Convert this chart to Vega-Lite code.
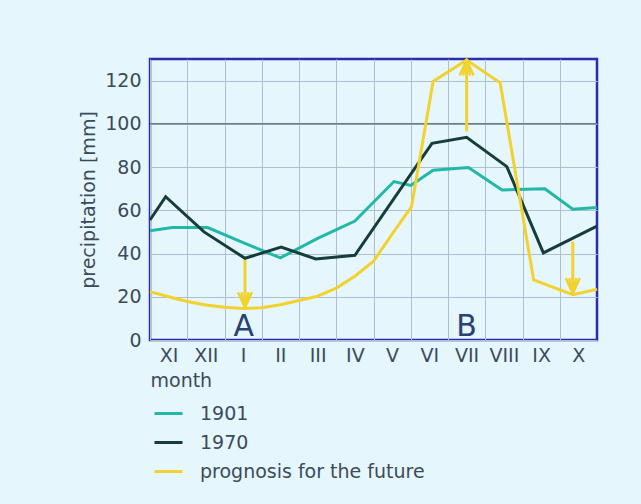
{
  "$schema": "https://vega.github.io/schema/vega-lite/v6.json",
  "width": 447,
  "height": 281,
  "autosize": "none",
  "padding": {"left": 150, "top": 59, "right": 44, "bottom": 164},
  "background": "#e6f6fd",
  "config": {
    "font": "DejaVu Sans",
    "view": {"stroke": "#2b2bab", "strokeWidth": 2.5, "fill": "#e6f6fd"},
    "axis": {"labelFont": "DejaVu Sans", "titleFont": "DejaVu Sans", "labelColor": "#3b4b5b", "titleColor": "#3b4b5b", "labelFontSize": 19, "titleFontSize": 19, "titleFontWeight": "normal", "gridColor": "#aebfcf", "gridWidth": 1, "gridOpacity": 1, "domain": false, "ticks": false},
    "legend": {"labelFont": "DejaVu Sans", "labelFontSize": 19, "labelColor": "#3b4b5b", "labelLimit": 400}
  },
  "datasets": {
    "lines": [
      {"series": "1901", "u": 0, "v": 50.5},
      {"series": "1901", "u": 0.6, "v": 52},
      {"series": "1901", "u": 1.55, "v": 52},
      {"series": "1901", "u": 2.5, "v": 45},
      {"series": "1901", "u": 3.5, "v": 38},
      {"series": "1901", "u": 4.5, "v": 47},
      {"series": "1901", "u": 5.5, "v": 55},
      {"series": "1901", "u": 6.55, "v": 73.3},
      {"series": "1901", "u": 7.0, "v": 71.5},
      {"series": "1901", "u": 7.6, "v": 78.5},
      {"series": "1901", "u": 8.55, "v": 79.8},
      {"series": "1901", "u": 9.45, "v": 69.4},
      {"series": "1901", "u": 10.6, "v": 70},
      {"series": "1901", "u": 11.35, "v": 60.5},
      {"series": "1901", "u": 12, "v": 61.3},
      {"series": "1970", "u": 0, "v": 55.5},
      {"series": "1970", "u": 0.42, "v": 66.3},
      {"series": "1970", "u": 1.45, "v": 50},
      {"series": "1970", "u": 2.55, "v": 37.8},
      {"series": "1970", "u": 3.52, "v": 43},
      {"series": "1970", "u": 4.45, "v": 37.5},
      {"series": "1970", "u": 5.5, "v": 39.2},
      {"series": "1970", "u": 7.57, "v": 91},
      {"series": "1970", "u": 8.5, "v": 93.8},
      {"series": "1970", "u": 9.58, "v": 80.2},
      {"series": "1970", "u": 10.56, "v": 40.3},
      {"series": "1970", "u": 12, "v": 52.7},
      {"series": "prognosis for the future", "u": 0, "v": 22.4},
      {"series": "prognosis for the future", "u": 0.5, "v": 20},
      {"series": "prognosis for the future", "u": 1.0, "v": 17.8},
      {"series": "prognosis for the future", "u": 1.5, "v": 16.2},
      {"series": "prognosis for the future", "u": 2.0, "v": 15.2},
      {"series": "prognosis for the future", "u": 2.5, "v": 14.6},
      {"series": "prognosis for the future", "u": 3.0, "v": 14.9},
      {"series": "prognosis for the future", "u": 3.5, "v": 16.3},
      {"series": "prognosis for the future", "u": 4.0, "v": 18.3},
      {"series": "prognosis for the future", "u": 4.5, "v": 20.3},
      {"series": "prognosis for the future", "u": 5.0, "v": 24},
      {"series": "prognosis for the future", "u": 5.5, "v": 29.5},
      {"series": "prognosis for the future", "u": 6.0, "v": 36.5},
      {"series": "prognosis for the future", "u": 6.5, "v": 49},
      {"series": "prognosis for the future", "u": 7.02, "v": 61.7},
      {"series": "prognosis for the future", "u": 7.6, "v": 119.6},
      {"series": "prognosis for the future", "u": 8.5, "v": 129.5},
      {"series": "prognosis for the future", "u": 9.4, "v": 119},
      {"series": "prognosis for the future", "u": 10.3, "v": 27.8},
      {"series": "prognosis for the future", "u": 11.35, "v": 21},
      {"series": "prognosis for the future", "u": 12, "v": 23.5}
    ],
    "arrows": [
      {"u": 2.55, "from": 37, "to": 15, "dir": "down"},
      {"u": 8.5, "from": 96.5, "to": 129.5, "dir": "up"},
      {"u": 11.35, "from": 45.5, "to": 21.5, "dir": "down"}
    ],
    "letters": [
      {"u": 2.52, "v": 1.9, "t": "A"},
      {"u": 8.5, "v": 1.9, "t": "B"}
    ]
  },
  "layer": [
    {
      "data": {"values": [{"g": 100}]},
      "mark": {"type": "rule", "color": "#6c7c8c", "strokeWidth": 1.5},
      "encoding": {
        "y": {"field": "g", "type": "quantitative", "scale": {"domain": [0, 130], "nice": false, "zero": true},
          "axis": {"title": "precipitation [mm]", "values": [0,10,20,30,40,50,60,70,80,90,100,110,120], "labelExpr": "datum.value % 20 === 0 ? datum.label : ''", "grid": true, "labelPadding": 9, "titlePadding": 6}}
      }
    },
    {
      "data": {"name": "lines"},
      "mark": {"type": "line", "strokeWidth": 3},
      "encoding": {
        "x": {"field": "u", "type": "quantitative", "scale": {"domain": [0, 12], "nice": false, "zero": false},
          "axis": {"title": "month", "titleAnchor": "start", "titleAlign": "left", "values": [0,1,2,3,4,5,6,7,8,9,10,11], "labelExpr": "['XI','XII','I','II','III','IV','V','VI','VII','VIII','IX','X'][datum.value]", "labelOffset": 18.6, "labelPadding": 6, "titlePadding": 6, "grid": true, "labelFlush": false, "labelOverlap": false, "labelBound": false}},
        "y": {"field": "v", "type": "quantitative"},
        "color": {"field": "series", "type": "nominal", "title": null,
          "scale": {"domain": ["1901", "1970", "prognosis for the future"], "range": ["#22b8a8", "#173d3a", "#f2d22e"]},
          "legend": {"orient": "none", "legendX": 3, "legendY": 339, "symbolType": "stroke", "symbolSize": 784, "symbolStrokeWidth": 3, "labelOffset": 16, "rowPadding": 3, "padding": 0, "labelLimit": 400}},
        "order": {"field": "u", "type": "quantitative"}
      }
    },
    {
      "data": {"name": "arrows"},
      "mark": {"type": "rule", "color": "#f2d22e", "strokeWidth": 3},
      "encoding": {
        "x": {"field": "u", "type": "quantitative"},
        "y": {"field": "from", "type": "quantitative"},
        "y2": {"field": "to"}
      }
    },
    {
      "data": {"name": "arrows"},
      "mark": {"type": "point", "filled": false, "stroke": "#f2d22e", "strokeWidth": 2.5, "size": 196, "opacity": 1},
      "encoding": {
        "x": {"field": "u", "type": "quantitative"},
        "y": {"field": "to", "type": "quantitative"},
        "shape": {"field": "dir", "type": "nominal", "legend": null,
          "scale": {"domain": ["down", "up"], "range": ["M-1,-2.2L0,0L1,-2.2M-0.5,-2.2L0,0L0.5,-2.2", "M-1,2.2L0,0L1,2.2M-0.5,2.2L0,0L0.5,2.2"]}}
      }
    },
    {
      "data": {"name": "letters"},
      "mark": {"type": "text", "fontSize": 30, "color": "#2a4270", "baseline": "alphabetic", "align": "center", "font": "DejaVu Sans"},
      "encoding": {
        "x": {"field": "u", "type": "quantitative"},
        "y": {"field": "v", "type": "quantitative"},
        "text": {"field": "t"}
      }
    }
  ]
}
